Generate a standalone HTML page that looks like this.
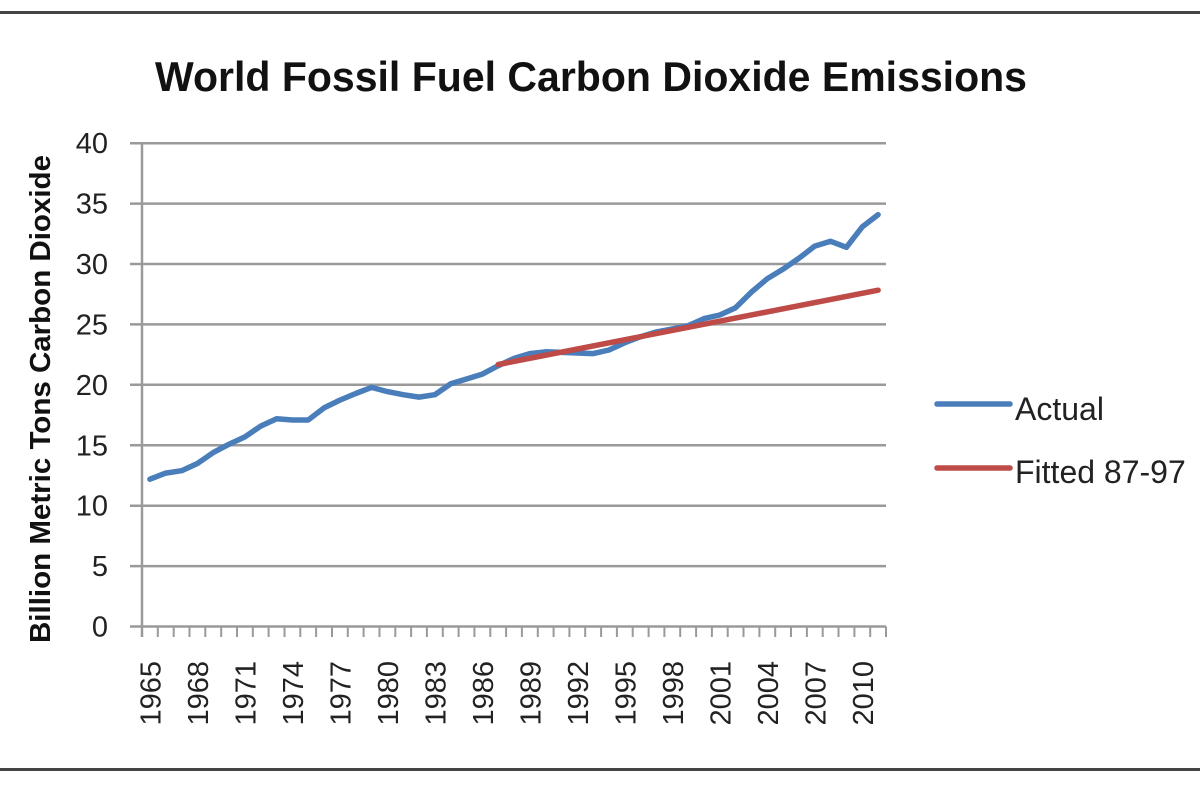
<!DOCTYPE html>
<html>
<head>
<meta charset="utf-8">
<style>
  html, body { margin: 0; padding: 0; background: #fff; }
  svg { display: block; }
  text { font-family: "Liberation Sans", "DejaVu Sans", sans-serif; fill: #222; }
</style>
</head>
<body>
<svg width="1200" height="800" viewBox="0 0 1200 800" xmlns="http://www.w3.org/2000/svg">
  <rect x="0" y="0" width="1200" height="800" fill="#fff"/>
  <rect x="0" y="11" width="1200" height="3" fill="#444"/>
  <rect x="0" y="768" width="1200" height="3" fill="#444"/>

  <text x="155" y="91" font-size="42" font-weight="bold" textLength="872" lengthAdjust="spacingAndGlyphs" style="fill:#111">World Fossil Fuel Carbon Dioxide Emissions</text>

  <text transform="translate(50,643) rotate(-90)" font-size="29" font-weight="bold" textLength="488" lengthAdjust="spacingAndGlyphs" style="fill:#111">Billion Metric Tons Carbon Dioxide</text>

  <g stroke="#9a9a9a" stroke-width="2.5">
    <line x1="130" y1="143.2" x2="886" y2="143.2"/>
    <line x1="130" y1="203.6" x2="886" y2="203.6"/>
    <line x1="130" y1="264.0" x2="886" y2="264.0"/>
    <line x1="130" y1="324.4" x2="886" y2="324.4"/>
    <line x1="130" y1="384.8" x2="886" y2="384.8"/>
    <line x1="130" y1="445.3" x2="886" y2="445.3"/>
    <line x1="130" y1="505.7" x2="886" y2="505.7"/>
    <line x1="130" y1="566.1" x2="886" y2="566.1"/>
    <line x1="130" y1="626.5" x2="886" y2="626.5"/>
    <line x1="142" y1="143.2" x2="142" y2="637"/>
  </g>
  <g stroke="#9a9a9a" stroke-width="2">
    <line x1="157.8" y1="626.5" x2="157.8" y2="637"/>
    <line x1="173.7" y1="626.5" x2="173.7" y2="637"/>
    <line x1="189.5" y1="626.5" x2="189.5" y2="637"/>
    <line x1="205.3" y1="626.5" x2="205.3" y2="637"/>
    <line x1="221.2" y1="626.5" x2="221.2" y2="637"/>
    <line x1="237.0" y1="626.5" x2="237.0" y2="637"/>
    <line x1="252.8" y1="626.5" x2="252.8" y2="637"/>
    <line x1="268.6" y1="626.5" x2="268.6" y2="637"/>
    <line x1="284.5" y1="626.5" x2="284.5" y2="637"/>
    <line x1="300.3" y1="626.5" x2="300.3" y2="637"/>
    <line x1="316.1" y1="626.5" x2="316.1" y2="637"/>
    <line x1="332.0" y1="626.5" x2="332.0" y2="637"/>
    <line x1="347.8" y1="626.5" x2="347.8" y2="637"/>
    <line x1="363.6" y1="626.5" x2="363.6" y2="637"/>
    <line x1="379.5" y1="626.5" x2="379.5" y2="637"/>
    <line x1="395.3" y1="626.5" x2="395.3" y2="637"/>
    <line x1="411.1" y1="626.5" x2="411.1" y2="637"/>
    <line x1="426.9" y1="626.5" x2="426.9" y2="637"/>
    <line x1="442.8" y1="626.5" x2="442.8" y2="637"/>
    <line x1="458.6" y1="626.5" x2="458.6" y2="637"/>
    <line x1="474.4" y1="626.5" x2="474.4" y2="637"/>
    <line x1="490.3" y1="626.5" x2="490.3" y2="637"/>
    <line x1="506.1" y1="626.5" x2="506.1" y2="637"/>
    <line x1="521.9" y1="626.5" x2="521.9" y2="637"/>
    <line x1="537.8" y1="626.5" x2="537.8" y2="637"/>
    <line x1="553.6" y1="626.5" x2="553.6" y2="637"/>
    <line x1="569.4" y1="626.5" x2="569.4" y2="637"/>
    <line x1="585.2" y1="626.5" x2="585.2" y2="637"/>
    <line x1="601.1" y1="626.5" x2="601.1" y2="637"/>
    <line x1="616.9" y1="626.5" x2="616.9" y2="637"/>
    <line x1="632.7" y1="626.5" x2="632.7" y2="637"/>
    <line x1="648.6" y1="626.5" x2="648.6" y2="637"/>
    <line x1="664.4" y1="626.5" x2="664.4" y2="637"/>
    <line x1="680.2" y1="626.5" x2="680.2" y2="637"/>
    <line x1="696.1" y1="626.5" x2="696.1" y2="637"/>
    <line x1="711.9" y1="626.5" x2="711.9" y2="637"/>
    <line x1="727.7" y1="626.5" x2="727.7" y2="637"/>
    <line x1="743.5" y1="626.5" x2="743.5" y2="637"/>
    <line x1="759.4" y1="626.5" x2="759.4" y2="637"/>
    <line x1="775.2" y1="626.5" x2="775.2" y2="637"/>
    <line x1="791.0" y1="626.5" x2="791.0" y2="637"/>
    <line x1="806.9" y1="626.5" x2="806.9" y2="637"/>
    <line x1="822.7" y1="626.5" x2="822.7" y2="637"/>
    <line x1="838.5" y1="626.5" x2="838.5" y2="637"/>
    <line x1="854.4" y1="626.5" x2="854.4" y2="637"/>
    <line x1="870.2" y1="626.5" x2="870.2" y2="637"/>
    <line x1="886.0" y1="626.5" x2="886.0" y2="637"/>
  </g>

  <g font-size="29" text-anchor="end">
    <text x="108" y="153.2">40</text>
    <text x="108" y="213.6">35</text>
    <text x="108" y="274.0">30</text>
    <text x="108" y="334.4">25</text>
    <text x="108" y="394.8">20</text>
    <text x="108" y="455.3">15</text>
    <text x="108" y="515.7">10</text>
    <text x="108" y="576.1">5</text>
    <text x="108" y="636.5">0</text>
  </g>

  <g font-size="29" text-anchor="end">
    <text transform="translate(160.4,661) rotate(-90)">1965</text>
    <text transform="translate(207.9,661) rotate(-90)">1968</text>
    <text transform="translate(255.4,661) rotate(-90)">1971</text>
    <text transform="translate(302.9,661) rotate(-90)">1974</text>
    <text transform="translate(350.4,661) rotate(-90)">1977</text>
    <text transform="translate(397.9,661) rotate(-90)">1980</text>
    <text transform="translate(445.4,661) rotate(-90)">1983</text>
    <text transform="translate(492.9,661) rotate(-90)">1986</text>
    <text transform="translate(540.3,661) rotate(-90)">1989</text>
    <text transform="translate(587.8,661) rotate(-90)">1992</text>
    <text transform="translate(635.3,661) rotate(-90)">1995</text>
    <text transform="translate(682.8,661) rotate(-90)">1998</text>
    <text transform="translate(730.3,661) rotate(-90)">2001</text>
    <text transform="translate(777.8,661) rotate(-90)">2004</text>
    <text transform="translate(825.3,661) rotate(-90)">2007</text>
    <text transform="translate(872.8,661) rotate(-90)">2010</text>
  </g>

  <polyline fill="none" stroke="#4A7EBB" stroke-width="5.5" stroke-linejoin="round" stroke-linecap="round"
    points="149.9,479.2 165.7,473.1 181.6,470.7 197.4,463.5 213.2,452.6 229.1,444.2 244.9,436.9 260.7,426.1 276.6,418.8 292.4,420.0 308.2,420.0 324.0,407.9 339.9,400.1 355.7,393.5 371.5,387.4 387.4,391.6 403.2,394.7 419.0,397.1 434.9,394.7 450.7,383.8 466.5,379.0 482.4,374.1 498.2,365.7 514.0,358.4 529.8,353.6 545.7,351.8 561.5,352.4 577.3,353.0 593.2,353.6 609.0,350.0 624.8,342.7 640.6,336.7 656.5,331.9 672.3,328.9 688.1,325.8 704.0,318.6 719.8,315.0 735.6,307.7 751.5,292.0 767.3,278.7 783.1,269.1 799.0,258.2 814.8,246.1 830.6,241.3 846.4,247.3 862.3,226.8 878.1,214.7"/>

  <line x1="498.2" y1="364.5" x2="878.1" y2="290.2" stroke="#BE4B48" stroke-width="5.5" stroke-linecap="round"/>

  <line x1="937" y1="404" x2="1010" y2="404" stroke="#4A7EBB" stroke-width="5.5" stroke-linecap="round"/>
  <text x="1015" y="420" font-size="32">Actual</text>
  <line x1="937" y1="468" x2="1010" y2="468" stroke="#BE4B48" stroke-width="5.5" stroke-linecap="round"/>
  <text x="1015" y="483" font-size="32">Fitted 87-97</text>
</svg>
</body>
</html>
